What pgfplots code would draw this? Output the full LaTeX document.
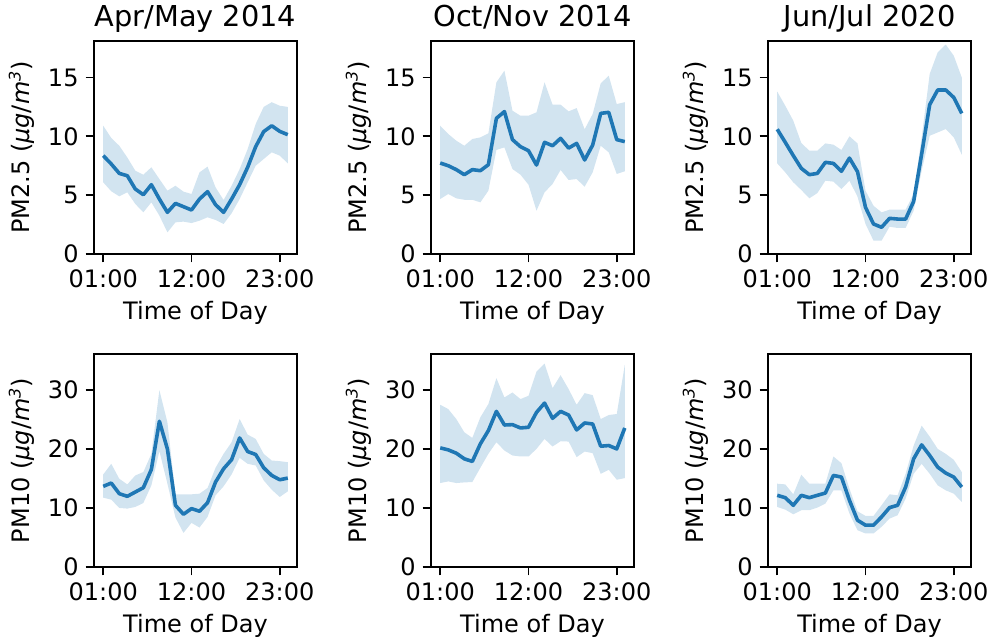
\documentclass[border=0pt]{standalone}
\usepackage{pgfplots}
\pgfplotsset{compat=1.18}
\usepackage{fontspec}
\setmainfont{DejaVu Sans}
\definecolor{tabblue}{HTML}{1F77B4}

\pgfplotsset{
  every axis title/.style={at={(0.5,1)}, anchor=base, yshift=7.2pt, font=\fontsize{14.4}{17}\selectfont},
  panel/.style={
    scale only axis, width=101.5pt, height=106.5pt,
    anchor=north west,
    xmin=-0.15, xmax=25.15, ymin=0,
    xtick={1,12,23}, xticklabels={01:00,12:00,23:00},
    xlabel={Time of Day},
    tick align=outside, tick pos=left,
    major tick length=4.2pt,
    axis line style={line width=0.95pt},
    tick style={line width=0.95pt, black},
    /pgf/number format/assume math mode=true,
    font=\fontsize{12}{14.4}\selectfont,
  },
  toprow/.style={ymax=18.1, ytick={0,5,10,15},
    ylabel={PM2.5 (\textit{μg}/\textit{m}\textsuperscript{\textit{3}})}},
  botrow/.style={ymax=36.1, ytick={0,10,20,30},
    ylabel={PM10 (\textit{μg}/\textit{m}\textsuperscript{\textit{3}})}},
  band/.style={fill=tabblue, fill opacity=0.2, draw=none},
  mean/.style={tabblue, line width=1.8pt, line join=round, mark=none},
}

\begin{document}
\begin{tikzpicture}
\useasboundingbox (0,0) rectangle (499.5pt,-321pt);

\begin{axis}[panel, toprow, at={(47pt,-20.5pt)}, title={Apr/May 2014}]
\addplot[band] coordinates {(1,10.9)(2,9.86)(3,9.20)(4,8.20)(5,7.08)(6,6.74)(7,7.37)(8,6.37)(9,5.38)(10,5.80)(11,5.30)(12,5.10)(13,6.94)(14,7.42)(15,5.66)(16,4.59)(17,5.80)(18,7.22)(19,8.92)(20,11.05)(21,12.5)(22,12.9)(23,12.6)(24,12.5)
(24,7.70)(23,8.36)(22,8.64)(21,8.07)(20,7.50)(19,6.09)(18,4.67)(17,3.46)(16,2.55)(15,2.89)(14,3.12)(13,2.83)(12,2.63)(11,2.75)(10,2.69)(9,1.84)(8,3.26)(7,4.39)(6,3.54)(5,4.25)(4,5.24)(3,4.90)(2,5.33)(1,6.09)} -- cycle;
\addplot[mean] coordinates {(1,8.36)(2,7.65)(3,6.85)(4,6.65)(5,5.52)(6,5.04)(7,5.89)(8,4.67)(9,3.54)(10,4.30)(11,4.02)(12,3.74)(13,4.67)(14,5.30)(15,4.19)(16,3.54)(17,4.67)(18,5.89)(19,7.37)(20,9.12)(21,10.4)(22,10.9)(23,10.42)(24,10.14)};
\end{axis}

\begin{axis}[panel, toprow, at={(215.5pt,-20.5pt)}, title={Oct/Nov 2014}]
\addplot[band] coordinates {(1,10.9)(2,10.2)(3,9.63)(4,9.20)(5,9.77)(6,9.91)(7,10.25)(8,14.59)(9,15.58)(10,12.18)(11,11.75)(12,11.75)(13,12.04)(14,14.59)(15,12.69)(16,12.69)(17,12.12)(18,12.40)(19,10.60)(20,11.90)(21,14.50)(22,15.15)(23,12.74)(24,12.90)
(24,7.03)(23,6.80)(22,8.64)(21,9.20)(20,6.94)(19,5.72)(18,6.37)(17,6.29)(16,7.14)(15,5.95)(14,5.24)(13,3.68)(12,5.89)(11,6.74)(10,7.22)(9,9.06)(8,8.84)(7,5.38)(6,4.39)(5,4.61)(4,4.61)(3,4.73)(2,5.10)(1,4.67)} -- cycle;
\addplot[mean] coordinates {(1,7.73)(2,7.50)(3,7.17)(4,6.74)(5,7.17)(6,7.08)(7,7.59)(8,11.53)(9,12.10)(10,9.72)(11,9.12)(12,8.78)(13,7.56)(14,9.49)(15,9.20)(16,9.83)(17,9.00)(18,9.40)(19,7.99)(20,9.26)(21,11.95)(22,12.04)(23,9.72)(24,9.55)};
\end{axis}

\begin{axis}[panel, toprow, at={(384pt,-20.5pt)}, title={Jun/Jul 2020}]
\addplot[band] coordinates {(1,13.8)(2,12.6)(3,11.33)(4,9.43)(5,8.78)(6,8.78)(7,9.40)(8,9.29)(9,8.84)(10,10.0)(11,9.40)(12,5.38)(13,4.10)(14,3.54)(15,3.77)(16,3.77)(17,3.77)(18,5.10)(19,9.91)(20,15.3)(21,17.14)(22,17.8)(23,16.85)(24,15.0)
(24,8.44)(23,9.91)(22,10.62)(21,10.33)(20,10.05)(19,7.08)(18,3.68)(17,2.21)(16,2.21)(15,2.32)(14,1.13)(13,1.13)(12,2.55)(11,4.87)(10,6.23)(9,5.52)(8,6.15)(7,6.23)(6,5.18)(5,4.73)(4,5.44)(3,6.09)(2,6.94)(1,7.70)} -- cycle;
\addplot[mean] coordinates {(1,10.6)(2,9.49)(3,8.36)(4,7.28)(5,6.74)(6,6.85)(7,7.79)(8,7.70)(9,7.03)(10,8.15)(11,7.00)(12,3.96)(13,2.55)(14,2.27)(15,3.03)(16,2.97)(17,2.97)(18,4.47)(19,8.50)(20,12.69)(21,13.94)(22,13.94)(23,13.30)(24,11.95)};
\end{axis}

\begin{axis}[panel, botrow, at={(47pt,-177pt)}]
\addplot[band] coordinates {(1,15.69)(2,17.49)(3,14.96)(4,14.00)(5,15.52)(6,16.09)(7,19.18)(8,29.98)(9,24.52)(10,12.32)(11,12.32)(12,12.32)(13,12.43)(14,13.39)(15,16.82)(16,19.18)(17,21.15)(18,25.08)(19,22.44)(20,21.71)(21,19.18)(22,18.05)(23,17.94)(24,17.77)
(24,12.82)(23,11.87)(22,13.10)(21,14.68)(20,17.21)(19,17.49)(18,18.50)(17,15.69)(16,13.67)(15,12.15)(14,8.49)(13,6.69)(12,7.48)(11,5.79)(10,8.38)(9,14.12)(8,19.63)(7,13.84)(6,10.85)(5,10.18)(4,9.90)(3,10.01)(2,11.42)(1,11.75)} -- cycle;
\addplot[mean] coordinates {(1,13.67)(2,14.23)(3,12.43)(4,11.98)(5,12.71)(6,13.44)(7,16.54)(8,24.70)(9,20.00)(10,10.46)(11,8.94)(12,9.90)(13,9.45)(14,10.90)(15,14.40)(16,16.65)(17,18.20)(18,21.88)(19,19.57)(20,19.07)(21,16.82)(22,15.52)(23,14.79)(24,15.07)};
\end{axis}

\begin{axis}[panel, botrow, at={(215.5pt,-177pt)}]
\addplot[band] coordinates {(1,27.5)(2,26.77)(3,25.08)(4,22.84)(5,21.88)(6,25.37)(7,27.62)(8,32.0)(9,28.74)(10,29.58)(11,28.46)(12,29.02)(13,33.13)(14,34.48)(15,30.32)(16,32.51)(17,30.15)(18,27.5)(19,29.47)(20,29.13)(21,25.08)(22,25.76)(23,25.93)(24,34.25)
(24,15.07)(23,14.79)(22,16.48)(21,15.80)(20,19.29)(19,19.57)(18,18.62)(17,21.26)(16,21.32)(15,20.42)(14,21.71)(13,20.02)(12,18.73)(11,18.73)(10,18.90)(9,19.74)(8,21.15)(7,19.18)(6,16.82)(5,14.40)(4,14.34)(3,14.23)(2,14.51)(1,14.23)} -- cycle;
\addplot[mean] coordinates {(1,20.19)(2,19.85)(3,19.29)(4,18.34)(5,17.89)(6,20.87)(7,23.12)(8,26.38)(9,24.07)(10,24.13)(11,23.57)(12,23.68)(13,26.21)(14,27.78)(15,25.20)(16,26.38)(17,25.76)(18,23.23)(19,24.41)(20,24.24)(21,20.47)(22,20.59)(23,20.02)(24,23.57)};
\end{axis}

\begin{axis}[panel, botrow, at={(384pt,-177pt)}]
\addplot[band] coordinates {(1,14.12)(2,14.00)(3,12.32)(4,15.64)(5,14.12)(6,14.12)(7,14.12)(8,18.73)(9,17.60)(10,13.27)(11,9.45)(12,8.66)(13,8.66)(14,10.46)(15,12.32)(16,12.15)(17,15.80)(18,20.59)(19,23.96)(20,22.10)(21,20.02)(22,19.18)(23,18.17)(24,16.09)
(24,11.02)(23,12.43)(22,12.99)(21,13.84)(20,15.80)(19,17.49)(18,15.80)(17,11.59)(16,8.77)(15,8.21)(14,6.81)(13,5.68)(12,5.68)(11,6.24)(10,9.06)(9,12.99)(8,12.99)(7,10.74)(6,10.07)(5,9.62)(4,9.62)(3,8.94)(2,9.73)(1,10.18)} -- cycle;
\addplot[mean] coordinates {(1,12.15)(2,11.75)(3,10.46)(4,12.15)(5,11.75)(6,12.15)(7,12.54)(8,15.52)(9,15.24)(10,11.30)(11,7.93)(12,7.09)(13,7.09)(14,8.49)(15,10.07)(16,10.46)(17,13.55)(18,18.34)(19,20.70)(20,18.90)(21,16.93)(22,15.92)(23,15.24)(24,13.55)};
\end{axis}
\end{tikzpicture}
\end{document}
